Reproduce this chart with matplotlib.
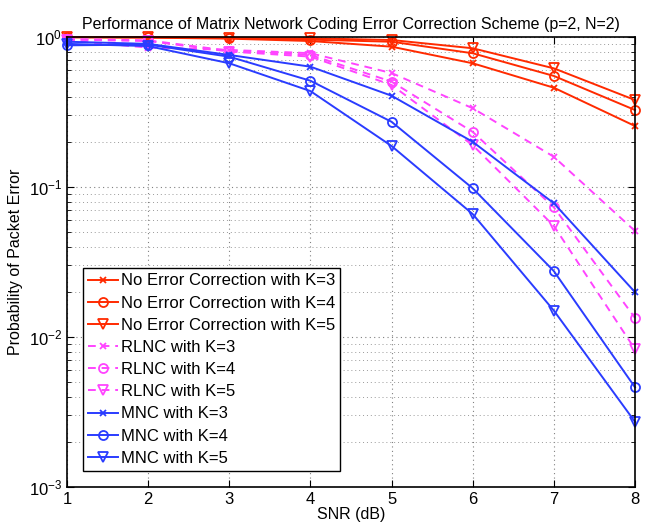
import numpy as np
import matplotlib
matplotlib.use("Agg")
import matplotlib.pyplot as plt
from matplotlib.ticker import LogLocator, NullFormatter

plt.rcParams['font.family'] = ['Liberation Sans', 'DejaVu Sans']
plt.rcParams['mathtext.fontset'] = 'custom'
plt.rcParams['mathtext.rm'] = 'Liberation Sans'
plt.rcParams['mathtext.it'] = 'Liberation Sans:italic'

# SNR (dB)
snr = [1, 2, 3, 4, 5, 6, 7, 8]

# No error correction
noec_k3 = [0.995, 0.99, 0.975, 0.94, 0.862, 0.668, 0.459, 0.255]
noec_k4 = [0.998, 0.995, 0.985, 0.96, 0.93, 0.779, 0.55, 0.326]
noec_k5 = [1.0, 0.998, 0.99, 0.98, 0.955, 0.841, 0.618, 0.38]

# RLNC
rlnc_k3 = [0.95, 0.85, 0.82, 0.78, 0.575, 0.335, 0.159, 0.0509]
rlnc_k4 = [0.97, 0.95, 0.81, 0.76, 0.504, 0.233, 0.0732, 0.0134]
rlnc_k5 = [0.96, 0.94, 0.80, 0.74, 0.479, 0.19, 0.055, 0.00828]

# MNC
mnc_k3 = [0.93, 0.9, 0.759, 0.634, 0.406, 0.2, 0.0779, 0.0199]
mnc_k4 = [0.88, 0.89, 0.739, 0.511, 0.272, 0.098, 0.0275, 0.00462]
mnc_k5 = [0.9, 0.87, 0.668, 0.436, 0.1876, 0.066, 0.015, 0.00272]

red = '#ff2a00'
mag = '#ff44ff'
blue = '#2a3cff'

fig = plt.figure(figsize=(6.46, 5.25), dpi=100)
ax = fig.add_axes([67 / 646, 1 - 487 / 525, 568 / 646, 450 / 525])

series = [
    (noec_k3, red, '-', 'x', 'No Error Correction with K=3'),
    (noec_k4, red, '-', 'o', 'No Error Correction with K=4'),
    (noec_k5, red, '-', 'v', 'No Error Correction with K=5'),
    (rlnc_k3, mag, '--', 'x', 'RLNC with K=3'),
    (rlnc_k4, mag, '--', 'o', 'RLNC with K=4'),
    (rlnc_k5, mag, '--', 'v', 'RLNC with K=5'),
    (mnc_k3, blue, '-', 'x', 'MNC with K=3'),
    (mnc_k4, blue, '-', 'o', 'MNC with K=4'),
    (mnc_k5, blue, '-', 'v', 'MNC with K=5'),
]
msize = {'x': 5, 'o': 6.5, 'v': 7}
for vals, c, ls, m, lab in series:
    ln, = ax.semilogy(snr, vals, color=c, linestyle=ls, marker=m, markersize=msize[m],
                      markerfacecolor='none', markeredgewidth=1.3, linewidth=1.4,
                      label=lab, clip_on=False)
    if ls == '--':
        ln.set_dashes((4, 3))

ax.set_xlim(1, 8)
ax.set_ylim(1e-3, 1)
ax.set_xticks(snr)
ax.yaxis.set_major_locator(LogLocator(base=10, numticks=10))
ax.yaxis.set_minor_locator(LogLocator(base=10, subs=np.arange(2, 10), numticks=10))
ax.yaxis.set_minor_formatter(NullFormatter())
ax.tick_params(which='both', direction='in', top=True, right=True, labelsize=12)
ax.tick_params(which='major', length=5)
ax.tick_params(which='minor', length=3)
ax.grid(True, which='major', linestyle=(0, (1, 3)), color='#808080', linewidth=0.8)
ax.grid(True, which='minor', axis='y', linestyle=(0, (1, 3)), color='#999999', linewidth=0.7)
for sp in ax.spines.values():
    sp.set_linewidth(1.2)

ax.set_title('Performance of Matrix Network Coding Error Correction Scheme (p=2, N=2)',
             fontsize=11.5, pad=6)
ax.set_xlabel('SNR (dB)', fontsize=11.5, labelpad=0)
ax.set_ylabel('Probability of Packet Error', fontsize=11.5)

leg = ax.legend(loc='lower left', bbox_to_anchor=(0.029, 0.036), borderaxespad=0,
                fontsize=12, fancybox=False, framealpha=1, edgecolor='black',
                handlelength=1.75, handletextpad=0.2, labelspacing=0.43,
                borderpad=0.3)
leg.get_frame().set_linewidth(1.0)

fig.savefig('out.png', dpi=100)
